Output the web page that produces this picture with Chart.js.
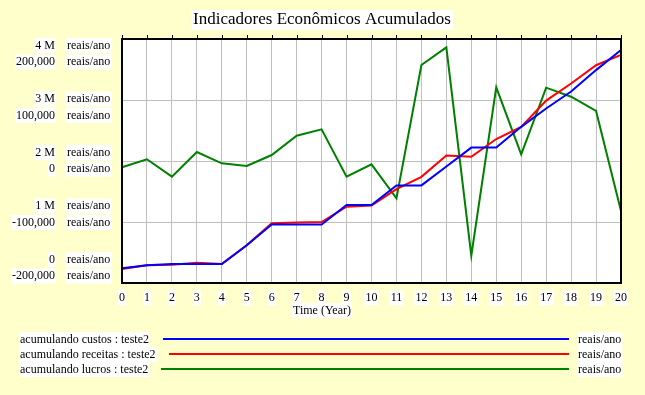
<!DOCTYPE html>
<html>
<head>
<meta charset="utf-8">
<script src="https://cdn.jsdelivr.net/npm/chart.js@4/dist/chart.umd.min.js"></script>
<style>
html,body{margin:0;padding:0;background:#FFFFCC;}
#wrap{width:645px;height:395px;}
</style>
</head>
<body>
<div id="wrap"><canvas id="c" width="645" height="395"></canvas></div>
<script>
const years = ["0","1","2","3","4","5","6","7","8","9","10","11","12","13","14","15","16","17","18","19","20"];
const custos = [240000,290000,310000,310000,310000,620000,960000,960000,960000,1280000,1280000,1600000,1600000,1910000,2220000,2220000,2560000,2860000,3140000,3490000,3820000];
const receitas = [230000,290000,300000,330000,310000,620000,980000,990000,1000000,1250000,1270000,1540000,1740000,2090000,2070000,2360000,2560000,2990000,3270000,3570000,3740000];
const lucros = [-10300,2800,-25700,14800,-3800,-8200,9800,41500,51900,-25700,-5500,-61200,157400,186300,-155200,120800,11000,120200,105400,82000,-82000];
const leftTicks = ["4 M","3 M","2 M","1 M","0"];
const rightTicks = ["200,000","100,000","0","-100,000","-200,000"];
const unitLabel = "reais/ano";
const titleText = "Indicadores Econômicos Acumulados";
const xTitle = "Time (Year)";
const legendNames = ["acumulando custos : teste2","acumulando receitas : teste2","acumulando lucros : teste2"];
const colors = ["#0000FF","#FF0000","#008000"];

const SERIF = '"Liberation Serif","DejaVu Serif",serif';

function boxText(ctx, text, x, y, align, font){
  ctx.font = font;
  const w = ctx.measureText(text).width;
  let left = align === 'right' ? x - w : (align === 'center' ? x - w/2 : x);
  ctx.fillStyle = '#FFFFFF';
  ctx.fillRect(left - 1, y - 7, w + 2, 15);
  ctx.fillStyle = '#000000';
  ctx.textAlign = 'left';
  ctx.textBaseline = 'middle';
  ctx.fillText(text, left, y + 0.5);
}

const decor = {
  id: 'decor',
  beforeDraw(chart){
    const {ctx, chartArea:a} = chart;
    ctx.save();
    ctx.fillStyle = '#FFFFCC';
    ctx.fillRect(0,0,chart.width,chart.height);
    ctx.fillStyle = '#FFFFFF';
    ctx.fillRect(a.left,a.top,a.right-a.left,a.bottom-a.top);
    ctx.restore();
  },
  afterDraw(chart){
    const {ctx, chartArea:a} = chart;
    ctx.save();
    ctx.strokeStyle = '#000000';
    ctx.lineWidth = 2;
    ctx.strokeRect(a.left, a.top, a.right-a.left, a.bottom-a.top);
    const xs = chart.scales.x;
    ctx.lineWidth = 1;
    for (let i = 0; i < years.length; i++){
      const px = Math.round(xs.getPixelForTick(i)) + 0.5;
      ctx.beginPath(); ctx.moveTo(px, a.top-4); ctx.lineTo(px, a.top); ctx.stroke();
    }
    const f = '12px ' + SERIF;
    const h = a.bottom - a.top;
    const step = (h - 30) / 4;
    for (let i = 0; i < leftTicks.length; i++){
      const y1 = a.top + 6 + i*step;
      const y2 = y1 + 16.5;
      boxText(ctx, leftTicks[i], 55, y1, 'right', f);
      boxText(ctx, unitLabel, 67, y1, 'left', f);
      boxText(ctx, rightTicks[i], 55, y2, 'right', f);
      boxText(ctx, unitLabel, 67, y2, 'left', f);
    }
    ctx.font = '17px ' + SERIF;
    const tw = ctx.measureText(titleText).width;
    ctx.fillStyle = '#FFFFFF';
    ctx.fillRect(322 - tw/2 - 2, 10, tw + 4, 20);
    ctx.fillStyle = '#000000';
    ctx.textAlign = 'center'; ctx.textBaseline = 'middle';
    ctx.fillText(titleText, 322, 20);
    const rowsY = [339, 354, 369];
    const lineStart = [163, 169, 161];
    for (let i = 0; i < legendNames.length; i++){
      boxText(ctx, legendNames[i], 20, rowsY[i], 'left', f);
      ctx.strokeStyle = colors[i];
      ctx.lineWidth = 2;
      ctx.beginPath(); ctx.moveTo(lineStart[i], rowsY[i]); ctx.lineTo(569, rowsY[i]); ctx.stroke();
      boxText(ctx, unitLabel, 578, rowsY[i], 'left', f);
    }
    boxText(ctx, xTitle, 322, 310, 'center', f);
    ctx.restore();
  }
};

new Chart(document.getElementById('c'), {
  type: 'line',
  data: {
    labels: years,
    datasets: [
      {label: legendNames[0], data: custos, borderColor: colors[0], yAxisID: 'y'},
      {label: legendNames[1], data: receitas, borderColor: colors[1], yAxisID: 'y'},
      {label: legendNames[2], data: lucros, borderColor: colors[2], yAxisID: 'y1'}
    ]
  },
  options: {
    responsive: false,
    animation: false,
    layout: {padding: {left: 122, right: 24, top: 39, bottom: 0}},
    elements: {line: {borderWidth: 2, tension: 0, fill: false}, point: {radius: 0}},
    plugins: {legend: {display: false}, title: {display: false}, tooltip: {enabled: false}},
    scales: {
      x: {
        offset: false,
        grid: {color: '#C0C0C0', drawTicks: false, offset: false},
        border: {display: false},
        ticks: {
          color: '#000000', font: {family: SERIF, size: 12}, padding: 8,
          maxRotation: 0, autoSkip: false,
          showLabelBackdrop: true, backdropColor: '#FFFFFF', backdropPadding: {top:1,bottom:0,left:1,right:1}
        },
        afterFit(scale){ scale.height = 112; }
      },
      y: {
        min: 0, max: 4000000,
        ticks: {display: false, stepSize: 1000000},
        grid: {color: '#C0C0C0', drawTicks: false},
        border: {display: false},
        afterFit(scale){ scale.width = 0; }
      },
      y1: {
        display: false, min: -200000, max: 200000
      }
    }
  },
  plugins: [decor]
});
</script>
</body>
</html>
